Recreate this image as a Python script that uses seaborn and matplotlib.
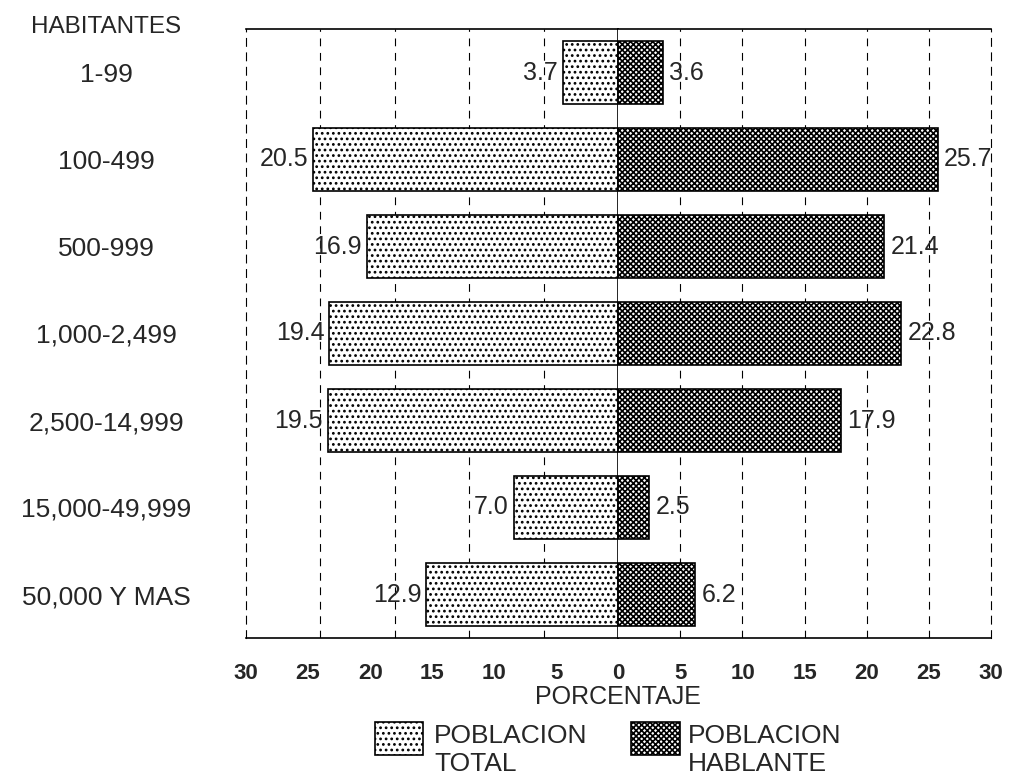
import numpy as np
import pandas as pd
import matplotlib
matplotlib.use("Agg")
import matplotlib.pyplot as plt
import seaborn as sns
from matplotlib.patches import Rectangle

# ---------------- data ----------------
categories = ["1-99", "100-499", "500-999", "1,000-2,499",
              "2,500-14,999", "15,000-49,999", "50,000 Y MAS"]
poblacion_total = [3.7, 20.5, 16.9, 19.4, 19.5, 7.0, 12.9]
poblacion_hablante = [3.6, 25.7, 21.4, 22.8, 17.9, 2.5, 6.2]
left_grid = [5, 10, 15, 20]
right_grid = [5, 10, 15, 20, 25]
axis_ticks = [-30, -25, -20, -15, -10, -5, 0, 5, 10, 15, 20, 25, 30]
axis_ticklabels = ["30", "25", "20", "15", "10", "5", "0",
                   "5", "10", "15", "20", "25", "30"]
legend_labels = ["POBLACION\nTOTAL", "POBLACION\nHABLANTE"]

# ---------------- style ----------------
sns.set_style("white")
plt.rcParams["font.family"] = ["Liberation Sans", "DejaVu Sans"]
plt.rcParams["hatch.linewidth"] = 1.2

HATCH_TOTAL = "..."
HATCH_HABLA = "xxxxxx"

df = pd.DataFrame({"HABITANTES": categories,
                   "TOTAL": poblacion_total,
                   "HABLANTE": poblacion_hablante})

W, Hpx = 1009, 775
fig = plt.figure(figsize=(W / 100, Hpx / 100), dpi=100)
L = 246 / W
R = 991 / W
MID = 618 / W
B = 1 - 638 / Hpx
H = (638 - 29) / Hpx

ax_l = fig.add_axes([L, B, MID - L, H])
ax_r = fig.add_axes([MID, B, R - MID, H])
ax_t = fig.add_axes([L, B, R - L, H], frameon=False)
ax_t.patch.set_alpha(0)

grid_kw = dict(color="black", linestyle=(0, (7, 6)), linewidth=0.8)

sns.barplot(data=df, y="HABITANTES", x="TOTAL", ax=ax_l, orient="h",
            color="white", saturation=1, edgecolor="black", linewidth=1.2,
            width=0.72)
sns.barplot(data=df, y="HABITANTES", x="HABLANTE", ax=ax_r, orient="h",
            color="white", saturation=1, edgecolor="black", linewidth=1.2,
            width=0.72)

for p in ax_l.patches:
    p.set_hatch(HATCH_TOTAL)
for p in ax_r.patches:
    p.set_hatch(HATCH_HABLA)

ax_l.set_xlim(25, 0)
ax_r.set_xlim(0, 30)

for ax, g in ((ax_l, left_grid), (ax_r, right_grid)):
    ax.set_xticks(g)
    ax.grid(axis="x", **grid_kw)
    ax.set_axisbelow(True)
    ax.tick_params(axis="x", length=0, labelbottom=False)
    ax.set_xlabel("")
    ax.set_ylabel("")
    for s in ax.spines.values():
        s.set_color("black")
        s.set_linewidth(1.2)

ax_l.spines["left"].set_linestyle((0, (7, 6)))
ax_l.spines["left"].set_linewidth(0.8)
ax_r.spines["right"].set_linestyle((0, (7, 6)))
ax_r.spines["right"].set_linewidth(0.8)
ax_r.spines["left"].set_visible(False)

ax_l.set_yticks(range(len(categories)))
ax_l.set_yticklabels(categories)
ax_l.tick_params(axis="y", length=0, pad=100.8, labelsize=19)
for lbl in ax_l.get_yticklabels():
    lbl.set_horizontalalignment("center")
ax_r.tick_params(axis="y", left=False, labelleft=False)

ax_l.bar_label(ax_l.containers[0], labels=[f"{v:.1f}" for v in poblacion_total],
               padding=3.5, fontsize=18)
ax_r.bar_label(ax_r.containers[0], labels=[f"{v:.1f}" for v in poblacion_hablante],
               padding=4.5, fontsize=18)

# overlay axis for the common tick labels
ax_t.set_xlim(-30, 30)
ax_t.set_xticks(axis_ticks)
ax_t.set_xticklabels(axis_ticklabels, fontweight="bold")
ax_t.set_yticks([])
ax_t.tick_params(axis="x", length=0, pad=18, labelsize=16)
ax_t.grid(False)

fig.text(618 / W, 1 - 697 / Hpx, "PORCENTAJE", ha="center", va="center",
         fontsize=18)
fig.text(106 / W, 1 - 27 / Hpx, "HABITANTES", ha="center", va="center",
         fontsize=17.5)

# legend (drawn in figure coordinates)
legend_items = [(375, 722, 48, 33, 434, HATCH_TOTAL, legend_labels[0]),
                (631, 722, 49, 33, 688, HATCH_HABLA, legend_labels[1])]
for x0, y0, w, h, tx, hatch, lab in legend_items:
    fig.add_artist(Rectangle((x0 / W, 1 - (y0 + h) / Hpx), w / W, h / Hpx,
                             transform=fig.transFigure, facecolor="white",
                             edgecolor="black", linewidth=1.2, hatch=hatch))
    fig.text(tx / W, 1 - 750 / Hpx, lab, ha="left", va="center",
             fontsize=19, linespacing=1.22)

fig.savefig("out.png", dpi=100)
